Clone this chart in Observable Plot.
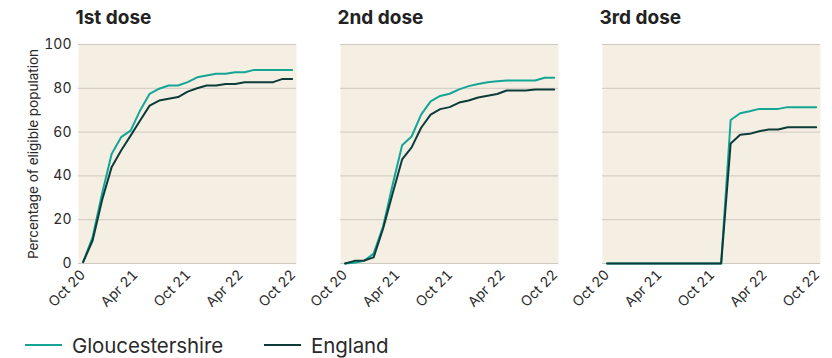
<!DOCTYPE html>
<html>
<head>
<meta charset="utf-8">
<script src="https://cdn.jsdelivr.net/npm/d3@7"></script>
<script src="https://cdn.jsdelivr.net/npm/@observablehq/plot@0.6"></script>
<style>
  html, body { margin: 0; padding: 0; background: #ffffff; }
  body { width: 832px; height: 358px; overflow: hidden; font-family: Inter, "Noto Sans", sans-serif; }
  #legend { height: 48px; display: flex; align-items: center; padding-left: 25px; padding-top: 22px; box-sizing: border-box; font-size: 20.5px; color: #2a2a2a; letter-spacing: -0.1px; }
  .item { display: flex; align-items: center; margin-right: 41px; }
  .sw { width: 37px; height: 2px; margin-right: 10px; }
</style>
</head>
<body>
<div id="chart"></div>
<div id="legend"></div>
<script>
const doses = ["1st dose", "2nd dose", "3rd dose"];
const areas = ["Gloucestershire", "England"];
const colors = ["#14a597", "#0c3b3a"];

const dates = [
  "2020-10-01", "2020-11-03", "2020-12-06", "2021-01-08", "2021-02-10", "2021-03-15",
  "2021-04-17", "2021-05-20", "2021-06-22", "2021-07-25", "2021-08-27", "2021-09-29",
  "2021-11-01", "2021-12-04", "2022-01-06", "2022-02-08", "2022-03-13", "2022-04-15",
  "2022-05-18", "2022-06-20", "2022-07-23", "2022-08-25", "2022-09-27"
];

const glos1 = [0.6, 12, 32, 50, 57.7, 60.7, 69.9, 77.5, 79.8, 81.3, 81.3, 82.8, 85, 85.8, 86.6, 86.6, 87.3, 87.3, 88.4, 88.4, 88.4, 88.4, 88.4];
const eng1  = [0.6, 10.5, 29, 44, 51.6, 58.4, 65.3, 72.1, 74.4, 75.2, 76, 78.5, 80, 81.3, 81.3, 82, 82, 82.8, 82.8, 82.8, 82.8, 84.3, 84.3];

const glos2 = [0, 0.3, 1.2, 4.5, 17, 36, 54, 58, 68, 74, 76.5, 77.5, 79.5, 81, 82, 82.8, 83.2, 83.6, 83.6, 83.6, 83.6, 84.8, 84.8];
const eng2  = [0, 1.2, 1.4, 2.8, 16, 32, 47.5, 53, 62, 68, 70.5, 71.4, 73.5, 74.4, 75.8, 76.6, 77.4, 79, 79, 79, 79.5, 79.5, 79.5];

const glos3 = [0, 0, 0, 0, 0, 0, 0, 0, 0, 0, 0, 0, 0, 65.5, 68.6, 69.5, 70.6, 70.6, 70.6, 71.4, 71.4, 71.4, 71.4];
const eng3  = [0, 0, 0, 0, 0, 0, 0, 0, 0, 0, 0, 0, 0, 54.8, 58.8, 59.2, 60.4, 61.2, 61.2, 62.2, 62.2, 62.2, 62.2];

const yTicks = [0, 20, 40, 60, 80, 100];
const xTicks = ["2020-10-01", "2021-04-01", "2021-10-01", "2022-04-01", "2022-10-01"];
const yLabel = "Percentage of eligible population";

const series = [
  [doses[0], areas[0], glos1], [doses[0], areas[1], eng1],
  [doses[1], areas[0], glos2], [doses[1], areas[1], eng2],
  [doses[2], areas[0], glos3], [doses[2], areas[1], eng3]
];
const rows = [];
for (const [dose, area, vals] of series) {
  vals.forEach((v, i) => rows.push({dose, area, date: new Date(dates[i]), value: v}));
}

const fmt = d3.utcFormat("%b %y");

const chart = Plot.plot({
  width: 832,
  height: 310,
  marginLeft: 77,
  marginRight: 10,
  marginTop: 44,
  marginBottom: 47,
  style: {fontFamily: "Inter, 'Noto Sans', sans-serif", color: "#333", background: "#ffffff"},
  fx: {domain: doses, padding: 0.167, axis: null, label: null},
  x: {type: "utc", domain: [new Date("2020-09-15"), new Date("2022-10-12")]},
  y: {domain: [0, 100]},
  color: {domain: areas, range: colors},
  marks: [
    Plot.frame({fill: "#f5efe3", stroke: "none"}),
    Plot.gridY(yTicks, {stroke: "#cdc9c1", strokeOpacity: 1, strokeWidth: 1}),
    Plot.axisY(yTicks, {tickSize: 0, tickPadding: 7, fontSize: 14, label: null, fill: "#2a2a2a"}),
    Plot.axisX(xTicks.map(d => new Date(d)), {tickSize: 0, tickRotate: -45, tickPadding: 9, fontSize: 14, tickFormat: fmt, label: null, fill: "#2a2a2a"}),
    Plot.text([yLabel], {fx: [doses[0]], text: d => d, frameAnchor: "left", rotate: -90, dx: -45, textAnchor: "middle", fontSize: 13.5, fill: "#2a2a2a"}),
    Plot.lineY(rows, {x: "date", y: "value", fx: "dose", stroke: "area", strokeWidth: 2}),
    Plot.text(doses, {fx: d => d, text: d => d, frameAnchor: "top-left", dx: -3, dy: -34, fontSize: 19, fontWeight: "bold", fill: "#222", textAnchor: "start", lineAnchor: "top", letterSpacing: "-0.5px"})
  ]
});
document.getElementById("chart").appendChild(chart);

const legend = document.getElementById("legend");
areas.forEach((a, i) => {
  const item = document.createElement("div");
  item.className = "item";
  const sw = document.createElement("div");
  sw.className = "sw";
  sw.style.background = colors[i];
  const t = document.createElement("span");
  t.textContent = a;
  item.appendChild(sw);
  item.appendChild(t);
  legend.appendChild(item);
});
</script>
</body>
</html>
